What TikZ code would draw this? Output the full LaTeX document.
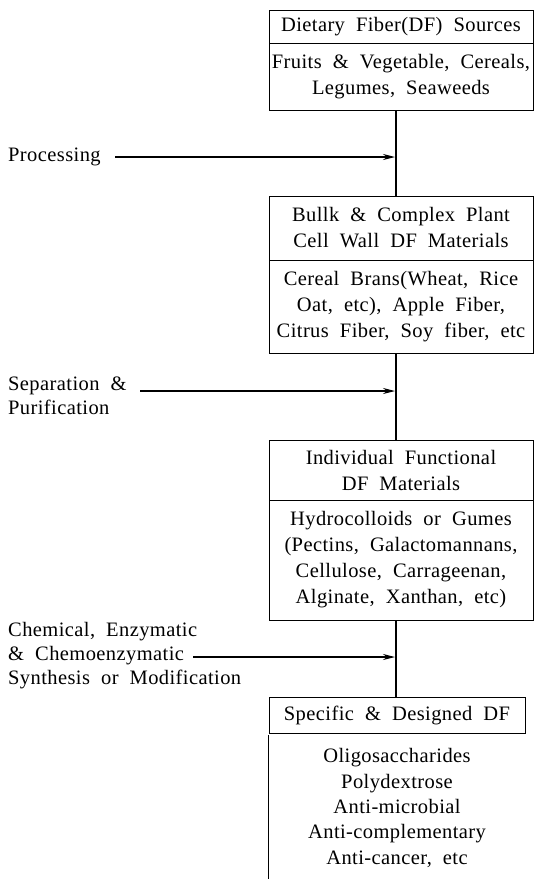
\documentclass[tikz,border=0pt]{standalone}
\usepackage{fontspec}
\setmainfont{Liberation Serif}[LetterSpace=2,WordSpace=2]
\usetikzlibrary{arrows.meta}
\begin{document}
\begin{tikzpicture}[x=1pt,y=-1pt,
  txt/.style={font=\fontsize{20.5}{26}\selectfont},
  cell/.style={draw, line width=1pt, inner sep=0pt, align=center, txt},
  lab/.style={inner sep=0pt, align=left, anchor=base west, font=\fontsize{20.5}{24}\selectfont},
  link/.style={line width=1.1pt},
  arr/.style={line width=1.1pt, -{Stealth[length=12pt,width=6pt]}}]
\useasboundingbox (0,0) rectangle (535,879);
% box 1
\node[cell, minimum width=264pt, minimum height=33pt] (b1t) at (401,26.5) {Dietary Fiber(DF) Sources};
\node[cell, minimum width=264pt, minimum height=67pt] (b1b) at (401,76.5) {Fruits \& Vegetable, Cereals,\\Legumes, Seaweeds};
% box 2
\node[cell, minimum width=264pt, minimum height=64pt] (b2t) at (401,228) {Bullk \& Complex Plant\\Cell Wall DF Materials};
\node[cell, minimum width=264pt, minimum height=93pt] (b2b) at (401,306.5) {Cereal Brans(Wheat, Rice\\Oat, etc), Apple Fiber,\\Citrus Fiber, Soy fiber, etc};
% box 3
\node[cell, minimum width=264pt, minimum height=60pt] (b3t) at (401,470) {Individual Functional\\DF Materials};
\node[cell, minimum width=264pt, minimum height=120pt] (b3b) at (401,560) {Hydrocolloids or Gumes\\(Pectins, Galactomannans,\\Cellulose, Carrageenan,\\Alginate, Xanthan, etc)};
% box 4
\node[cell, minimum width=256pt, minimum height=36pt] (b4t) at (397,715) {Specific \& Designed DF};
\node[inner sep=0pt, align=center, font=\fontsize{20.5}{25.3}\selectfont, minimum width=256pt, minimum height=146pt] (b4b) at (397,808) {Oligosaccharides\\Polydextrose\\Anti-microbial\\Anti-complementary\\Anti-cancer, etc};
\draw[line width=1pt] (b4b.south west) -- (b4b.north west);
% spine
\coordinate (spine) at (396,0);
\draw[link] (b1b.south -| spine) -- (b2t.north -| spine);
\draw[link] (b2b.south -| spine) -- (b3t.north -| spine);
\draw[link] (b3b.south -| spine) -- (b4t.north -| spine);
% side labels and arrows
\node[lab] (proc) at (8,161) {Processing};
\coordinate (a1) at (395,157);
\draw[arr] (115,0 |- a1) -- (a1);
\node[lab] (sep) at (8,414) {Separation \&\\Purification};
\coordinate (a2) at (395,391);
\draw[arr] (140,0 |- a2) -- (a2);
\node[lab] (chem) at (8,684) {Chemical, Enzymatic\\\& Chemoenzymatic\\Synthesis or Modification};
\coordinate (a3) at (395,657);
\draw[arr] (193,0 |- a3) -- (a3);
\end{tikzpicture}
\end{document}
